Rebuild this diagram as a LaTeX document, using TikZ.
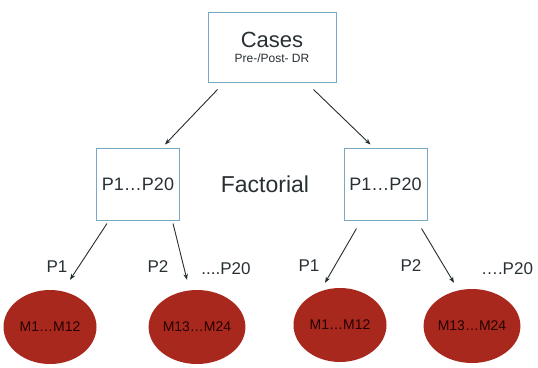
\documentclass[tikz,border=0pt]{standalone}
\usepackage{fontspec}
\setmainfont{Liberation Sans}
\usetikzlibrary{arrows.meta,shapes.geometric}
\definecolor{boxblue}{RGB}{120,168,196}
\definecolor{mred}{RGB}{168,40,30}
\definecolor{arrgray}{RGB}{35,45,50}
\definecolor{txtgray}{RGB}{40,48,52}
\begin{document}
\begin{tikzpicture}
[
x = 1pt, y = -1pt,
pbox/.style = {draw=boxblue, line width=1pt, fill=white, inner sep=0pt, align=center, text=txtgray},
mnode/.style = {ellipse, fill=mred, minimum width=93pt, minimum height=74pt, inner sep=0pt, text=black!85!red, font=\fontsize{14}{16}\selectfont},
arr/.style = {draw=arrgray, line width=0.9pt, -{Stealth[length=6pt,width=4.5pt]}},
lbl/.style = {text=txtgray, font=\fontsize{17}{19}\selectfont}
]
\useasboundingbox (0,0) rectangle (538,367);
% boxes
\node [pbox, minimum width=128pt, minimum height=70pt] (cases) at (272,47)
    {{\fontsize{22}{24}\selectfont Cases}\\[3pt]{\fontsize{12}{13}\selectfont Pre-/Post- DR}};
\node [pbox, minimum width=83pt, minimum height=72pt, font=\fontsize{18}{20}\selectfont] (pleft) at (138,184) {P1\ldots P20};
\node [pbox, minimum width=83pt, minimum height=72pt, font=\fontsize{18}{20}\selectfont] (pright) at (385.5,184) {P1\ldots P20};
\node [text=txtgray, font=\fontsize{23}{25}\selectfont] (fact) at (265,184) {Factorial};
% models
\node [mnode] (m1) at (50,327) {M1\ldots M12};
\node [mnode] (m2) at (197,327) {M13\ldots M24};
\node [mnode] (m3) at (340,325) {M1\ldots M12};
\node [mnode] (m4) at (472,326) {M13\ldots M24};
% arrows
\draw [arr] ([shift={(10,7)}]cases.south west) -- ([shift={(27,-3)}]pleft.north);
\draw [arr] ([shift={(-23,7)}]cases.south east) -- ([shift={(-15,-3)}]pright.north);
\draw [arr] ([shift={(11,3)}]pleft.south west) -- ([shift={(20,-10)}]m1.north);
\draw [arr] ([shift={(-7,3)}]pleft.south east) -- ([shift={(-10,-10)}]m2.north);
\draw [arr] ([shift={(13,8)}]pright.south west) -- ([shift={(-15,-5)}]m3.north);
\draw [arr] ([shift={(-6,8)}]pright.south east) -- ([shift={(-18,-6)}]m4.north);
% labels
\node [lbl] (l1) at (57,267) {P1};
\node [lbl] (l2) at (158,267) {P2};
\node [lbl] (l3) at (226,269) {....P20};
\node [lbl] (l4) at (309,266) {P1};
\node [lbl] (l5) at (411,266) {P2};
\node [lbl] (l6) at (507,269) {\ldots.P20};
\end{tikzpicture}
\end{document}
